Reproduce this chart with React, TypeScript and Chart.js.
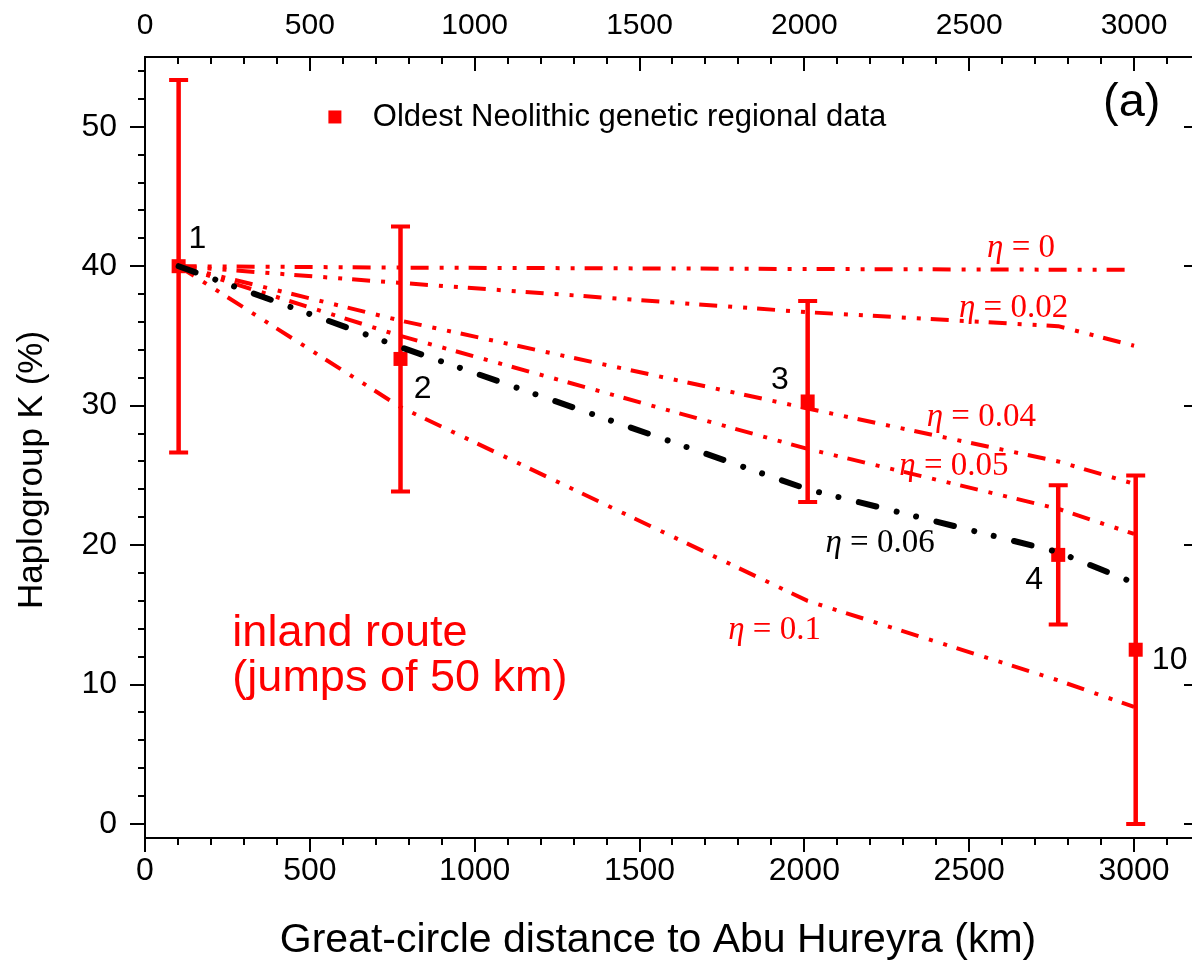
import React, { useEffect, useRef } from 'react';
import { Chart, registerables } from 'chart.js';

Chart.register(...registerables);

// ---- data ----
const siteLabels = ['1', '2', '3', '4', '10'];
const siteDistance = [102, 775, 2010, 2770, 3005];
const siteK = [40.0, 33.35, 30.3, 19.3, 12.5];
const siteErr = [13.35, 9.5, 7.2, 5.0, 12.5];

const modelDistance = [102, 775, 2010, 2770, 3000];
const eta0 = [40, 39.9, 39.8, 39.75, 39.75];
const eta002 = [40, 38.8, 36.7, 35.7, 34.3];
const eta004 = [40, 36.1, 29.8, 26.0, 24.4];
const eta005 = [40, 35.0, 26.9, 22.6, 20.8];
const eta006 = [40, 34.2, 24.0, 19.5, 17.3];
const eta01 = [40, 29.9, 16.0, 10.3, 8.4];

const xTickValues = [0, 500, 1000, 1500, 2000, 2500, 3000];
const yTickValues = [0, 10, 20, 30, 40, 50];

const etaTexts = ['0', '0.02', '0.04', '0.05', '0.06', '0.1'];

// ---- annotation placement (data coordinates) ----
const siteLabelPos = [
  [132, 41.3],
  [815, 30.57],
  [1899, 31.2],
  [2670, 16.88],
  [3054, 11.15],
];
const etaLabelPos = [
  [2554, 40.68],
  [2469, 36.33],
  [2371, 28.57],
  [2288, 25.03],
  [2064, 19.48],
  [1769, 13.28],
];
const etaLabelColor = ['#ff0000', '#ff0000', '#ff0000', '#ff0000', '#000000', '#ff0000'];

const RED = '#ff0000';
const SANS = '"Liberation Sans", Arial, sans-serif';
const SERIF = '"Liberation Serif", "Times New Roman", serif';

const X_MIN = 0;
const X_MAX = 3197;
const Y_MIN = -1;
const Y_MAX = 55;

const decorPlugin = {
  id: 'decor',
  beforeDatasetsDraw(chart: any) {
    const { ctx, scales } = chart;
    const xs = scales.x;
    const ys = scales.y;
    ctx.save();
    ctx.strokeStyle = RED;
    for (let i = 0; i < siteDistance.length; i++) {
      const px = xs.getPixelForValue(siteDistance[i]);
      const pTop = ys.getPixelForValue(siteK[i] + siteErr[i]);
      const pBot = ys.getPixelForValue(siteK[i] - siteErr[i]);
      ctx.lineWidth = 4.5;
      ctx.beginPath();
      ctx.moveTo(px, pTop);
      ctx.lineTo(px, pBot);
      ctx.stroke();
      ctx.lineWidth = 4;
      ctx.beginPath();
      ctx.moveTo(px - 9.5, pTop);
      ctx.lineTo(px + 9.5, pTop);
      ctx.moveTo(px - 9.5, pBot);
      ctx.lineTo(px + 9.5, pBot);
      ctx.stroke();
    }
    ctx.restore();
  },
  afterDraw(chart: any) {
    const { ctx, chartArea: a, scales } = chart;
    const xs = scales.x;
    const ys = scales.y;
    ctx.save();
    // frame
    ctx.strokeStyle = '#000';
    ctx.lineWidth = 2;
    ctx.strokeRect(a.left, a.top, a.right - a.left, a.bottom - a.top);
    // x ticks
    ctx.beginPath();
    for (let v = 0; v <= X_MAX; v += 100) {
      const px = Math.round(xs.getPixelForValue(v));
      const L = v % 500 === 0 ? 14 : 7;
      ctx.moveTo(px, a.bottom);
      ctx.lineTo(px, a.bottom + L);
      ctx.moveTo(px, a.top);
      ctx.lineTo(px, a.top + L);
    }
    // y ticks
    for (let v = 0; v <= Y_MAX; v += 2) {
      const py = Math.round(ys.getPixelForValue(v));
      const L = v % 10 === 0 ? 15 : 7;
      ctx.moveTo(a.left, py);
      ctx.lineTo(a.left - L, py);
      ctx.moveTo(a.right, py);
      ctx.lineTo(a.right - L, py);
    }
    ctx.stroke();

    // site number labels
    ctx.fillStyle = '#000';
    ctx.font = `32px ${SANS}`;
    ctx.textAlign = 'left';
    ctx.textBaseline = 'alphabetic';
    siteLabels.forEach((t, i) => {
      ctx.fillText(t, xs.getPixelForValue(siteLabelPos[i][0]), ys.getPixelForValue(siteLabelPos[i][1]));
    });

    // eta labels
    etaTexts.forEach((t, i) => {
      const x0 = xs.getPixelForValue(etaLabelPos[i][0]);
      const y0 = ys.getPixelForValue(etaLabelPos[i][1]);
      ctx.fillStyle = etaLabelColor[i];
      ctx.font = `italic 33px ${SERIF}`;
      ctx.fillText('\u03B7', x0, y0);
      const w = ctx.measureText('\u03B7').width;
      ctx.font = `33px ${SERIF}`;
      ctx.fillText(' = ' + t, x0 + w, y0);
    });

    // inland route text
    ctx.fillStyle = RED;
    ctx.font = `45px ${SANS}`;
    ctx.fillText('inland route', xs.getPixelForValue(265), ys.getPixelForValue(12.8));
    ctx.fillText('(jumps of 50 km)', xs.getPixelForValue(265), ys.getPixelForValue(9.57));

    // (a)
    ctx.fillStyle = '#000';
    ctx.font = `47px ${SANS}`;
    ctx.fillText('(a)', xs.getPixelForValue(2906), ys.getPixelForValue(50.8));

    // legend
    const lx = xs.getPixelForValue(576);
    const ly = ys.getPixelForValue(50.7);
    ctx.fillStyle = RED;
    ctx.fillRect(lx - 6.5, ly - 6.5, 13, 13);
    ctx.fillStyle = '#000';
    ctx.font = `31px ${SANS}`;
    ctx.textBaseline = 'middle';
    ctx.fillText('Oldest Neolithic genetic regional data', xs.getPixelForValue(691), ly);

    // axis titles
    ctx.font = `41px ${SANS}`;
    ctx.textAlign = 'center';
    ctx.textBaseline = 'middle';
    ctx.fillText('Great-circle distance to Abu Hureyra (km)', 658, 941);
    ctx.font = `35px ${SANS}`;
    ctx.translate(32.5, 470);
    ctx.rotate(-Math.PI / 2);
    ctx.fillText('Haplogroup K (%)', 0, 0);
    ctx.restore();
  },
};

function lineDataset(label: string, ys: number[], color: string, width: number, dash: number[], cap: string) {
  return {
    label,
    data: modelDistance.map((x, i) => ({ x, y: ys[i] })),
    showLine: true,
    borderColor: color,
    backgroundColor: color,
    borderWidth: width,
    borderDash: dash,
    borderCapStyle: cap,
    borderJoinStyle: 'round',
    pointRadius: 0,
    pointHoverRadius: 0,
    fill: false,
    tension: 0,
  };
}

export default function App() {
  const ref = useRef<HTMLCanvasElement>(null);
  useEffect(() => {
    const canvas = ref.current!;
    const redDash = [18, 11, 4, 11, 4, 10];
    const tickFont = (size: number) => ({ family: SANS, size });
    const chart = new Chart(canvas, {
      type: 'scatter',
      data: {
        datasets: [
          lineDataset('η = 0.06', eta006, '#000000', 6, [18, 21, 0.01, 20, 0.01, 21], 'round'),
          lineDataset('η = 0', eta0, RED, 4, redDash, 'butt'),
          lineDataset('η = 0.02', eta002, RED, 4, redDash, 'butt'),
          lineDataset('η = 0.04', eta004, RED, 4, redDash, 'butt'),
          lineDataset('η = 0.05', eta005, RED, 4, redDash, 'butt'),
          lineDataset('η = 0.1', eta01, RED, 4, redDash, 'butt'),
          {
            label: 'Oldest Neolithic genetic regional data',
            data: siteDistance.map((x, i) => ({ x, y: siteK[i] })),
            pointStyle: 'rect',
            pointRadius: 9.9,
            pointHoverRadius: 9.9,
            backgroundColor: RED,
            borderColor: RED,
            borderWidth: 0,
            showLine: false,
          },
        ] as any,
      },
      options: {
        responsive: false,
        animation: false,
        events: [],
        devicePixelRatio: 1,
        layout: { autoPadding: false, padding: { left: 0, right: 1, top: 0, bottom: 0 } },
        plugins: { legend: { display: false }, tooltip: { enabled: false } },
        scales: {
          x: {
            type: 'linear',
            position: 'bottom',
            min: X_MIN,
            max: X_MAX,
            grid: { display: false, drawTicks: false },
            border: { display: false },
            afterBuildTicks: (s: any) => {
              s.ticks = xTickValues.map((v) => ({ value: v }));
            },
            afterFit: (s: any) => {
              s.height = 128;
              s.paddingLeft = 0;
              s.paddingRight = 0;
            },
            ticks: {
              font: tickFont(32),
              color: '#000',
              padding: 14,
              maxRotation: 0,
              autoSkip: false,
              callback: (v: any) => String(v),
            },
          },
          x2: {
            type: 'linear',
            position: 'top',
            min: X_MIN,
            max: X_MAX,
            grid: { display: false, drawTicks: false },
            border: { display: false },
            afterBuildTicks: (s: any) => {
              s.ticks = xTickValues.map((v) => ({ value: v }));
            },
            afterFit: (s: any) => {
              s.height = 57;
              s.paddingLeft = 0;
              s.paddingRight = 0;
            },
            ticks: {
              font: tickFont(30),
              color: '#000',
              padding: 13,
              maxRotation: 0,
              autoSkip: false,
              callback: (v: any) => String(v),
            },
          },
          y: {
            type: 'linear',
            position: 'left',
            min: Y_MIN,
            max: Y_MAX,
            grid: { display: false, drawTicks: false },
            border: { display: false },
            afterBuildTicks: (s: any) => {
              s.ticks = yTickValues.map((v) => ({ value: v }));
            },
            afterFit: (s: any) => {
              s.width = 145;
              s.paddingTop = 0;
              s.paddingBottom = 0;
            },
            ticks: {
              font: tickFont(32),
              color: '#000',
              padding: 28,
              autoSkip: false,
              callback: (v: any) => String(v),
            },
          },
        },
      } as any,
      plugins: [decorPlugin],
    });
    return () => chart.destroy();
  }, []);

  return (
    <div
      style={{
        position: 'absolute',
        left: 0,
        top: 0,
        width: 1192,
        height: 966,
        overflow: 'hidden',
        background: '#fff',
      }}
    >
      <div style={{ width: 1200, height: 966 }}>
        <canvas ref={ref} width={1200} height={966} style={{ width: 1200, height: 966, display: 'block' }} />
      </div>
    </div>
  );
}
